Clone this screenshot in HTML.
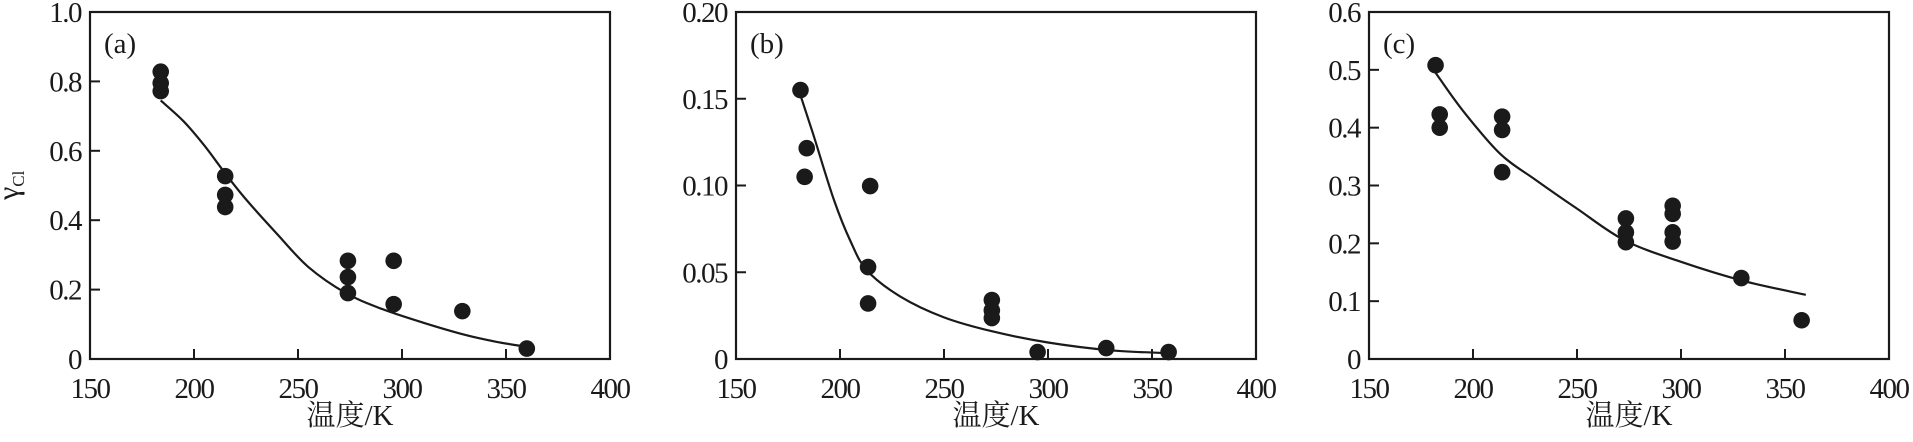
<!DOCTYPE html>
<html><head><meta charset="utf-8"><style>
html,body{margin:0;padding:0;background:#fff;}
svg{display:block;}
text{font-family:"Liberation Serif","Noto Serif CJK SC",serif;fill:#1a1a1a;}
</style></head><body>
<svg id="fig" width="1913" height="442" viewBox="0 0 1913 442">
<text transform="translate(18,200) rotate(-90)" font-size="30">γ<tspan font-size="17" dy="6">Cl</tspan></text>
</svg>
<script>
const xTicks=[150,200,250,300,350,400];
// panel a
const aTicksY=[0,0.2,0.4,0.6,0.8,1.0];
const aTickLabels=["0","0.2","0.4","0.6","0.8","1.0"];
const aPtsX=[184,184,184,215,215,215,274,274,274,296,296,329,360];
const aPtsY=[0.828,0.795,0.772,0.527,0.473,0.438,0.283,0.236,0.19,0.283,0.158,0.138,0.03];
const aCurveX=[184,195,205,215,225,240,255,273,290,310,330,345,360];
const aCurveY=[0.745,0.685,0.615,0.535,0.46,0.36,0.265,0.19,0.145,0.105,0.07,0.05,0.035];
// panel b
const bTicksY=[0,0.05,0.10,0.15,0.20];
const bTickLabels=["0","0.05","0.10","0.15","0.20"];
const bPtsX=[181,184,183,214.5,213.5,213.5,273,273,273,295,328,358];
const bPtsY=[0.155,0.1215,0.105,0.0997,0.053,0.032,0.034,0.028,0.0236,0.004,0.0063,0.004];
const bCurveX=[181,187,197,205,213,229,250,273,300,330,355];
const bCurveY=[0.152,0.13,0.092,0.068,0.051,0.036,0.024,0.016,0.0095,0.005,0.0035];
// panel c
const cTicksY=[0,0.1,0.2,0.3,0.4,0.5,0.6];
const cTickLabels=["0","0.1","0.2","0.3","0.4","0.5","0.6"];
const cPtsX=[182,184,184,214,214,214,273.5,273.5,273.5,296,296,296,296,329,358];
const cPtsY=[0.508,0.423,0.40,0.419,0.396,0.323,0.243,0.219,0.202,0.265,0.251,0.219,0.203,0.140,0.067];
const cCurveX=[182,195,213,230,250,273,300,330,360];
const cCurveY=[0.495,0.43,0.355,0.31,0.26,0.205,0.168,0.135,0.111];

const NS="http://www.w3.org/2000/svg";
const svg=document.getElementById('fig');
function mk(tag,attrs,parent){const e=document.createElementNS(NS,tag);for(const k in attrs)e.setAttribute(k,attrs[k]);(parent||svg).appendChild(e);return e;}
const TOP=12,BOT=359;
function panel(id,left,ymax,ticksY,tickLabels,px,py,cx,cy){
  const right=left+520;
  const g=mk('g',{});
  
  
  const X=v=>left+(v-150)/250*520;
  const Y=v=>BOT-v/ymax*(BOT-TOP);
  const fr=mk('rect',{x:left,y:TOP,width:520,height:BOT-TOP,fill:'none',stroke:'#1a1a1a','stroke-width':2.2},g);
  
  
  xTicks.forEach(t=>{
    if(t>150&&t<400){const l=mk('line',{x1:X(t),x2:X(t),y1:BOT,y2:BOT-10,stroke:'#1a1a1a','stroke-width':2},g);
      
      }
    const tx=mk('text',{x:X(t),y:398,'text-anchor':'middle','font-size':29,'letter-spacing':-1.5},g);
    tx.textContent=t;
    
    
  });
  ticksY.forEach((t,i)=>{
    if(t>0&&t<ymax-1e-9){const l=mk('line',{x1:left,x2:left+10,y1:Y(t),y2:Y(t),stroke:'#1a1a1a','stroke-width':2},g);
      
      }
    const tx=mk('text',{x:left-9,y:Y(t)+10,'text-anchor':'end','font-size':29,'letter-spacing':-1.5},g);
    tx.textContent=tickLabels[i];
    
    
  });
  const xt=mk('text',{x:left+260,y:425,'text-anchor':'middle','font-size':29},g);
  xt.textContent='温度/K';
  
  
  const pl=mk('text',{x:left+14,y:53,'font-size':29},g);
  pl.textContent='('+id+')';
  
  
  // curve (smooth via Catmull-Rom)
  const P=cx.map((v,i)=>[X(v),Y(cy[i])]);
  let d='M'+P[0][0]+','+P[0][1];
  for(let i=0;i<P.length-1;i++){
    const p0=P[i-1]||P[i],p1=P[i],p2=P[i+1],p3=P[i+2]||P[i+1];
    d+=' C'+(p1[0]+(p2[0]-p0[0])/6)+','+(p1[1]+(p2[1]-p0[1])/6)+' '+(p2[0]-(p3[0]-p1[0])/6)+','+(p2[1]-(p3[1]-p1[1])/6)+' '+p2[0]+','+p2[1];
  }
  const c=mk('path',{d:d,fill:'none',stroke:'#1a1a1a','stroke-width':2.2},g);
  
  
  px.forEach((v,i)=>{
    const dot=mk('circle',{cx:X(v),cy:Y(py[i]),r:8.3,fill:'#1a1a1a'},g);
    
    
  });
}
panel('a',90,1.0,aTicksY,aTickLabels,aPtsX,aPtsY,aCurveX,aCurveY);
panel('b',736,0.20,bTicksY,bTickLabels,bPtsX,bPtsY,bCurveX,bCurveY);
panel('c',1369,0.6,cTicksY,cTickLabels,cPtsX,cPtsY,cCurveX,cCurveY);
</script>
</body></html>
